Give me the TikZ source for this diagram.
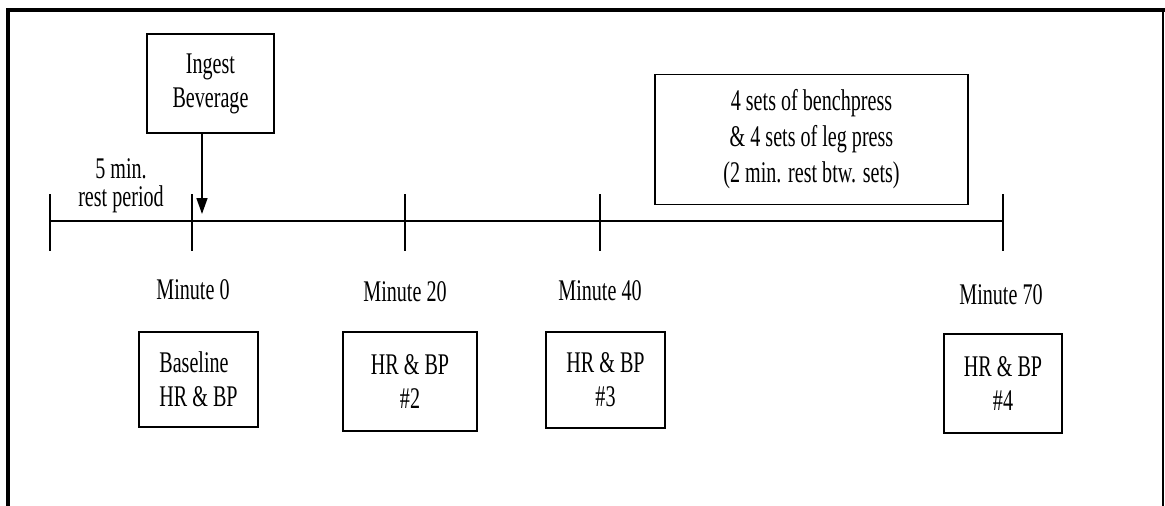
\documentclass[tikz,border=0pt]{standalone}
\usepackage{fontspec}
\setmainfont[FakeStretch=0.67]{Liberation Serif}
\usetikzlibrary{arrows.meta}

\begin{document}
\begin{tikzpicture}[x=1pt,y=-1pt]
	\tikzstyle{every node}+=[inner sep=0pt, align=center, font=\fontsize{30}{34}\selectfont]
	\tikzstyle{box}=[draw, line width=1.6pt]
	\useasboundingbox (0,0) rectangle (1165,506);
	% frame
	\draw [black, line width=4pt] (8,506) -- (8,10) -- (1165,10);
	\draw [black, line width=1.3pt] (1163,10) -- (1163,506);
	% time line and ticks
	\coordinate (start) at (50,221);
	\coordinate (m0) at (192,221);
	\coordinate (m20) at (405,221);
	\coordinate (m40) at (600,221);
	\coordinate (m70) at (1003,221);
	\draw [black, line width=1.6pt] (start) -- (m70);
	\foreach \x in {50,192,405,600,1003}
		\draw [black, line width=1.5pt] (\x,194) -- (\x,251);
	\draw (121,186) node [font=\fontsize{30}{28}\selectfont] (rest) {5 min.\\rest period};
	% labels under the ticks
	\draw (193,290) node (lab0) {Minute 0};
	\draw (405,292) node (lab20) {Minute 20};
	\draw (600,291) node (lab40) {Minute 40};
	\draw (1001,295) node (lab70) {Minute 70};
	% boxes
	\node [box, minimum width=127pt, minimum height=99pt] (ingest) at (210.5,83.5) {Ingest\\Beverage};
	\node [box, minimum width=313pt, minimum height=130pt, font=\fontsize{30}{36}\selectfont] (bench) at (811.5,139.5)
		{4 sets of benchpress\\\& 4 sets of leg press\\(2 min. rest btw. sets)};
	\node [box, align=left, minimum width=119pt, minimum height=95pt] (base) at (198.5,379.5) {Baseline\\HR \& BP};
	\node [box, minimum width=134pt, minimum height=99pt] (hr2) at (410,381.5) {HR \& BP\\\#2};
	\node [box, minimum width=119pt, minimum height=96pt] (hr3) at (605.5,380) {HR \& BP\\\#3};
	\node [box, minimum width=118pt, minimum height=99pt] (hr4) at (1003,383.5) {HR \& BP\\\#4};
	% beverage arrow
	\coordinate (drop) at (202,214);
	\draw [black, line width=1.5pt, -{Triangle[width=11pt,length=16pt]}] (ingest.south -| drop) -- (drop);
\end{tikzpicture}
\end{document}
